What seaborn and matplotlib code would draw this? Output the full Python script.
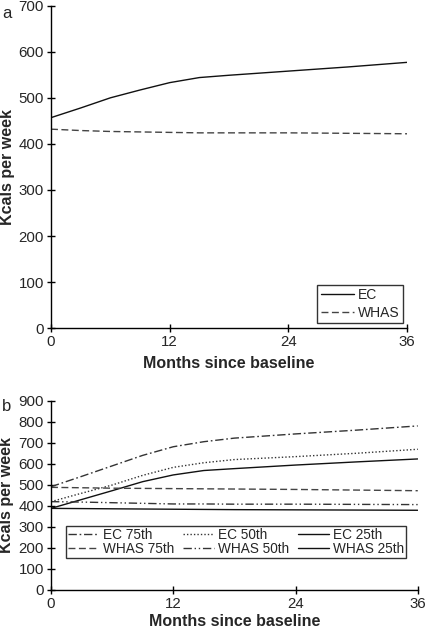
import pandas as pd
import matplotlib
matplotlib.use('Agg')
import matplotlib.pyplot as plt
import seaborn as sns

# Panel a: mean kcals per week
months_a = [0, 3, 6, 9, 12, 15, 18, 24, 30, 36]
ec_mean = [457, 478, 500, 517, 533, 544, 549, 558, 567, 577]
whas_mean = [432, 429, 427, 426, 425, 424, 424, 424, 423, 422]

# Panel b: percentiles
months_b = [0, 3, 6, 9, 12, 15, 18, 24, 30, 36]
ec_75 = [491, 540, 590, 640, 681, 705, 722, 742, 760, 780]
ec_50 = [420, 460, 499, 545, 583, 605, 620, 634, 650, 669]
ec_25 = [388, 430, 472, 515, 547, 568, 577, 594, 609, 623]
whas_75 = [488, 486, 484, 483, 482, 481, 480, 478, 475, 472]
whas_50 = [420, 418, 415, 412, 409, 409, 408, 408, 407, 406]
whas_25 = [388, 387, 386, 385, 384, 383, 382, 381, 380, 379]

sns.set_style('white')
plt.rcParams['font.family'] = ['Liberation Sans', 'DejaVu Sans']

fig = plt.figure(figsize=(4.25, 6.3), dpi=100)
ax1 = fig.add_axes([0.12, 0.479, 0.838, 0.512])
ax2 = fig.add_axes([0.12, 0.0635, 0.863, 0.3005])

# ---- panel a
df_a = pd.DataFrame({
    'month': months_a * 2,
    'kcal': ec_mean + whas_mean,
    'group': ['EC'] * len(months_a) + ['WHAS'] * len(months_a),
})
sns.lineplot(data=df_a, x='month', y='kcal', hue='group', style='group',
             palette={'EC': '#111111', 'WHAS': '#444444'},
             dashes={'EC': '', 'WHAS': (5, 2.5)}, linewidth=1.0, ax=ax1)
ax1.set_xlim(0, 36)
ax1.set_ylim(0, 700)
ax1.set_xticks([0, 12, 24, 36])
ax1.set_yticks(range(0, 701, 100))
ax1.set_xlabel('Months since baseline', fontsize=11.5, fontweight='bold', labelpad=5)
ax1.set_ylabel('Kcals per week', fontsize=11.5, fontweight='bold', labelpad=3)
h, l = ax1.get_legend_handles_labels()
leg = ax1.legend(h, l, loc='lower right', frameon=True, fontsize=10,
                 handlelength=2.4, borderpad=0.25, labelspacing=0.25,
                 handletextpad=0.3, fancybox=False, borderaxespad=0,
                 bbox_to_anchor=(0.989, 0.016))
leg.get_frame().set_edgecolor('black')
leg.get_frame().set_linewidth(1.0)
fig.text(0.005, 0.99, 'a', fontsize=12, va='top')

# ---- panel b
names = ['EC 75th', 'EC 50th', 'EC 25th', 'WHAS 75th', 'WHAS 50th', 'WHAS 25th']
series = [ec_75, ec_50, ec_25, whas_75, whas_50, whas_25]
df_b = pd.DataFrame({
    'month': months_b * len(names),
    'kcal': sum(series, []),
    'group': [n for n in names for _ in months_b],
})
colors_b = {'EC 75th': '#333333', 'EC 50th': '#333333', 'EC 25th': '#111111',
            'WHAS 75th': '#444444', 'WHAS 50th': '#333333', 'WHAS 25th': '#111111'}
dashes_b = {'EC 75th': (6, 2, 1.2, 2), 'EC 50th': (1, 1.5), 'EC 25th': '',
            'WHAS 75th': (5, 2.5), 'WHAS 50th': (6, 2, 1, 2, 1, 2), 'WHAS 25th': ''}
sns.lineplot(data=df_b, x='month', y='kcal', hue='group', style='group',
             hue_order=names, style_order=names,
             palette=colors_b, dashes=dashes_b, linewidth=1.0, ax=ax2)
ax2.set_xlim(0, 36)
ax2.set_ylim(0, 900)
ax2.set_xticks([0, 12, 24, 36])
ax2.set_yticks(range(0, 901, 100))
ax2.set_xlabel('Months since baseline', fontsize=11.5, fontweight='bold', labelpad=2)
ax2.set_ylabel('Kcals per week', fontsize=11.5, fontweight='bold', labelpad=3)
h, l = ax2.get_legend_handles_labels()
lut = dict(zip(l, h))
# legend fills column by column, so interleave to get EC row on top
order = ['EC 75th', 'WHAS 75th', 'EC 50th', 'WHAS 50th', 'EC 25th', 'WHAS 25th']
leg2 = ax2.legend([lut[n] for n in order], order, loc='lower left', ncol=3,
                  frameon=True, fontsize=9.8, handlelength=2.3, borderpad=0.15,
                  labelspacing=0.0, handletextpad=0.3, columnspacing=0.6,
                  fancybox=False, borderaxespad=0, bbox_to_anchor=(0.041, 0.169))
leg2.get_frame().set_edgecolor('black')
leg2.get_frame().set_linewidth(1.0)
fig.text(0.005, 0.367, 'b', fontsize=12, va='top')

for ax in (ax1, ax2):
    sns.despine(ax=ax)
    ax.spines['left'].set_color('black')
    ax.spines['bottom'].set_color('black')
    ax.spines['left'].set_linewidth(1.0)
    ax.spines['bottom'].set_linewidth(1.0)
    ax.tick_params(axis='both', which='major', direction='inout', length=6,
                   width=1.0, color='black', labelsize=10.8, left=True, bottom=True, pad=2)

fig.savefig('out.png', dpi=100)
